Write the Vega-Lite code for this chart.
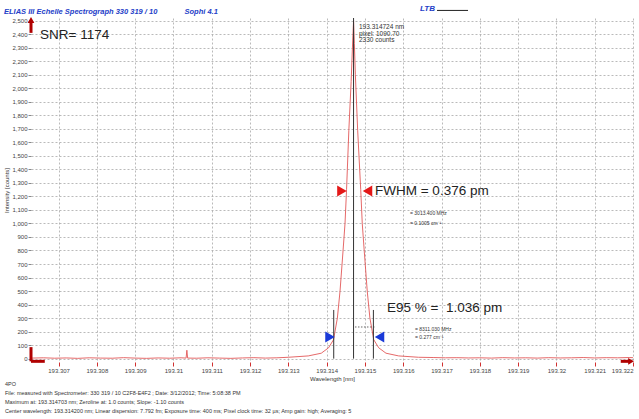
{
  "$schema": "https://vega.github.io/schema/vega-lite/v6.json",
  "width": 602,
  "height": 344,
  "autosize": {"type": "none"},
  "padding": {"left": 31, "top": 18, "right": 6, "bottom": 57},
  "background": "white",
  "config": {"view": {"stroke": null}, "font": "Liberation Sans"},
  "title": {
    "text": "ELIAS III Echelle Spectrograph 330 319 / 10\u00a0\u00a0\u00a0\u00a0\u00a0\u00a0\u00a0\u00a0\u00a0\u00a0\u00a0\u00a0\u00a0Sophi 4.1",
    "anchor": "start",
    "dx": 0,
    "dy": 15,
    "offset": 4,
    "font": "Liberation Sans",
    "fontSize": 7.5,
    "fontStyle": "italic",
    "fontWeight": "bold",
    "color": "#2340c8"
  },
  "datasets": {
    "spectrum": [
      {"x": 193.3063, "y": 4}, {"x": 193.3066, "y": 6}, {"x": 193.3069, "y": 3},
      {"x": 193.3072, "y": 5}, {"x": 193.3075, "y": 2}, {"x": 193.3078, "y": 6},
      {"x": 193.3081, "y": 4}, {"x": 193.3084, "y": 3}, {"x": 193.3087, "y": 7},
      {"x": 193.309, "y": 4}, {"x": 193.3093, "y": 2}, {"x": 193.3096, "y": 5},
      {"x": 193.3099, "y": 3}, {"x": 193.3102, "y": 6}, {"x": 193.31033, "y": 4},
      {"x": 193.31035, "y": 62}, {"x": 193.31037, "y": 4}, {"x": 193.3106, "y": 3},
      {"x": 193.3109, "y": 6}, {"x": 193.3112, "y": 4}, {"x": 193.3115, "y": 2},
      {"x": 193.3118, "y": 5}, {"x": 193.3121, "y": 7}, {"x": 193.3124, "y": 4},
      {"x": 193.3127, "y": 6}, {"x": 193.313, "y": 10}, {"x": 193.31352, "y": 20},
      {"x": 193.31386, "y": 40}, {"x": 193.31405, "y": 80}, {"x": 193.31418, "y": 140},
      {"x": 193.31428, "y": 300}, {"x": 193.31435, "y": 500}, {"x": 193.31443, "y": 804},
      {"x": 193.31448, "y": 1000}, {"x": 193.31452, "y": 1250}, {"x": 193.31458, "y": 1690},
      {"x": 193.31464, "y": 2050}, {"x": 193.31468, "y": 2350}, {"x": 193.314703, "y": 2500},
      {"x": 193.314724, "y": 2330}, {"x": 193.31475, "y": 2100}, {"x": 193.31481, "y": 1690},
      {"x": 193.31489, "y": 1250}, {"x": 193.31493, "y": 1000}, {"x": 193.31498, "y": 804},
      {"x": 193.31506, "y": 500}, {"x": 193.31513, "y": 300}, {"x": 193.31523, "y": 140},
      {"x": 193.31536, "y": 80}, {"x": 193.31555, "y": 40}, {"x": 193.31588, "y": 20},
      {"x": 193.3164, "y": 10}, {"x": 193.3168, "y": 8}, {"x": 193.3171, "y": 6},
      {"x": 193.3174, "y": 7}, {"x": 193.3177, "y": 5}, {"x": 193.318, "y": 6},
      {"x": 193.3183, "y": 4}, {"x": 193.3186, "y": 7}, {"x": 193.3189, "y": 5},
      {"x": 193.3192, "y": 6}, {"x": 193.3195, "y": 4}, {"x": 193.3198, "y": 7},
      {"x": 193.3201, "y": 5}, {"x": 193.3204, "y": 6}, {"x": 193.3207, "y": 8},
      {"x": 193.321, "y": 5}, {"x": 193.3213, "y": 7}, {"x": 193.3216, "y": 6},
      {"x": 193.3219, "y": 8}, {"x": 193.322, "y": 7}
    ],
    "cursors": [
      {"x": 193.314703, "y": 0, "y2": 2520},
      {"x": 193.314185, "y": 0, "y2": 360},
      {"x": 193.315221, "y": 0, "y2": 360}
    ],
    "levels": [
      {"x": 193.31474, "x2": 193.31526, "y": 234}
    ],
    "markers": [
      {"x": 193.3144, "y": 1240, "dir": "right", "kind": "fwhm"},
      {"x": 193.315067, "y": 1240, "dir": "left", "kind": "fwhm"},
      {"x": 193.314088, "y": 160, "dir": "right", "kind": "e95"},
      {"x": 193.315381, "y": 160, "dir": "left", "kind": "e95"}
    ],
    "heads": [
      {"x": 193.30628, "y": 2505, "dir": "up", "kind": "axis"},
      {"x": 193.32195, "y": -20, "dir": "right", "kind": "axis"}
    ],
    "axisArrows": [
      {"x": 193.30628, "x2": 193.30628, "y": 2410, "y2": 2500},
      {"x": 193.30628, "x2": 193.30628, "y": 85, "y2": -20},
      {"x": 193.30628, "x2": 193.30664, "y": -20, "y2": -20},
      {"x": 193.32168, "x2": 193.3219, "y": -20, "y2": -20}
    ],
    "notes": [
      {"x": 193.306515, "y": 2394, "label": "SNR= 1174", "group": "big"},
      {"x": 193.315263, "y": 1240, "label": "FWHM = 0.376 pm", "group": "big"},
      {"x": 193.315576, "y": 375, "label": "E95 % =\u00a0 1.036 pm", "group": "big"},
      {"x": 193.314845, "y": 2453, "label": "193.314724 nm", "group": "readout"},
      {"x": 193.314845, "y": 2405, "label": "pixel:  1090.70", "group": "readout"},
      {"x": 193.314845, "y": 2357, "label": "2330 counts", "group": "readout"},
      {"x": 193.316177, "y": 1077, "label": "= 3013.400 MHz", "group": "unit"},
      {"x": 193.316177, "y": 1003, "label": "= 0.1005 cm\u207b\u00b9", "group": "unit"},
      {"x": 193.316307, "y": 219, "label": "= 8311.030 MHz", "group": "unit"},
      {"x": 193.316307, "y": 160, "label": "=  0.277 cm\u207b\u00b9", "group": "unit"},
      {"x": 193.3056, "y": -188, "label": "4PO", "group": "footer"},
      {"x": 193.3056, "y": -254, "label": "File:  measured with Spectrometer: 330 319 / 10 C2F8-E4F2 ; Date: 3/12/2012; Time: 5:08:38 PM", "group": "footer"},
      {"x": 193.3056, "y": -321, "label": "Maximum at: 193.314703 nm; Zeroline at: 1.0 counts; Slope: -1.10 counts", "group": "footer"},
      {"x": 193.3056, "y": -387, "label": "Center wavelength: 193.314200 nm; Linear dispersion: 7.792 fm; Exposure time: 400 ms; Pixel clock time: 32 \u00b5s; Amp gain: high; Averaging: 5", "group": "footer"},
      {"x": 193.316438, "y": 2590, "label": "LTB", "group": "logo"}
    ],
    "logoLine": [
      {"x": 193.316882, "x2": 193.317692, "y": 2576}
    ]
  },
  "encoding": {
    "x": {
      "field": "x",
      "type": "quantitative",
      "scale": {"domain": [193.30628, 193.322], "nice": false, "zero": false},
      "axis": {
        "values": [193.307, 193.308, 193.309, 193.31, 193.311, 193.312, 193.313, 193.314, 193.315, 193.316, 193.317, 193.318, 193.319, 193.32, 193.321, 193.322],
        "format": ".3~f",
        "title": "Wavelength [nm]",
        "titleFontSize": 6,
        "titleFontWeight": "normal",
        "titleColor": "#333",
        "titlePadding": 2,
        "labelFontSize": 6,
        "labelColor": "#444",
        "labelPadding": 1,
        "labelFlush": true,
        "labelOverlap": false,
        "tickColor": "#d03030",
        "tickSize": 4,
        "domain": false,
        "grid": true,
        "gridColor": "#a8a8a8",
        "gridDash": [2, 2],
        "gridWidth": 0.8
      }
    },
    "y": {
      "field": "y",
      "type": "quantitative",
      "scale": {"domain": [-25, 2520], "nice": false, "zero": false},
      "axis": {
        "values": [0, 100, 200, 300, 400, 500, 600, 700, 800, 900, 1000, 1100, 1200, 1300, 1400, 1500, 1600, 1700, 1800, 1900, 2000, 2100, 2200, 2300, 2400, 2500],
        "format": ",.0f",
        "title": "Intensity [counts]",
        "titleFontSize": 6,
        "titleFontWeight": "normal",
        "titleColor": "#333",
        "titlePadding": 2,
        "labelFontSize": 6,
        "labelColor": "#444",
        "labelPadding": 1,
        "tickColor": "#888",
        "tickSize": 3,
        "domain": false,
        "grid": true,
        "gridColor": "#a8a8a8",
        "gridDash": [2, 2],
        "gridWidth": 0.8
      }
    }
  },
  "layer": [
    {
      "data": {"name": "spectrum"},
      "mark": {"type": "line", "color": "#e25858", "strokeWidth": 0.9, "interpolate": "linear"},
      "encoding": {}
    },
    {
      "data": {"name": "cursors"},
      "mark": {"type": "rule", "color": "#333", "strokeWidth": 1},
      "encoding": {"y2": {"field": "y2"}}
    },
    {
      "data": {"name": "levels"},
      "mark": {"type": "rule", "color": "#444", "strokeWidth": 0.8, "strokeDash": [1.5, 1.5]},
      "encoding": {"x2": {"field": "x2"}}
    },
    {
      "data": {"name": "axisArrows"},
      "mark": {"type": "rule", "color": "#b00000", "strokeWidth": 3},
      "encoding": {"x2": {"field": "x2"}, "y2": {"field": "y2"}}
    },
    {
      "data": {"name": "markers"},
      "mark": {"type": "point", "filled": true, "opacity": 1, "size": 120},
      "encoding": {
        "shape": {"field": "dir", "type": "nominal", "scale": {"domain": ["right", "left", "up"], "range": ["triangle-right", "triangle-left", "triangle-up"]}, "legend": null},
        "color": {"field": "kind", "type": "nominal", "scale": {"domain": ["fwhm", "e95", "axis"], "range": ["#e41818", "#1a3ad8", "#b00000"]}, "legend": null}
      }
    },
    {
      "data": {"name": "heads"},
      "mark": {"type": "point", "filled": true, "opacity": 1, "size": 45},
      "encoding": {
        "shape": {"field": "dir", "type": "nominal", "scale": {"domain": ["right", "left", "up"], "range": ["triangle-right", "triangle-left", "triangle-up"]}, "legend": null},
        "color": {"field": "kind", "type": "nominal", "scale": {"domain": ["fwhm", "e95", "axis"], "range": ["#e41818", "#1a3ad8", "#b00000"]}, "legend": null}
      }
    },
    {
      "data": {"name": "notes"},
      "transform": [{"filter": "datum.group === 'big'"}],
      "mark": {"type": "text", "align": "left", "baseline": "middle", "fontSize": 13.5, "color": "#222"},
      "encoding": {"text": {"field": "label"}}
    },
    {
      "data": {"name": "notes"},
      "transform": [{"filter": "datum.group === 'readout'"}],
      "mark": {"type": "text", "align": "left", "baseline": "middle", "fontSize": 6.5, "color": "#333"},
      "encoding": {"text": {"field": "label"}}
    },
    {
      "data": {"name": "notes"},
      "transform": [{"filter": "datum.group === 'unit'"}],
      "mark": {"type": "text", "align": "left", "baseline": "middle", "fontSize": 5, "color": "#333"},
      "encoding": {"text": {"field": "label"}}
    },
    {
      "data": {"name": "notes"},
      "transform": [{"filter": "datum.group === 'footer'"}],
      "mark": {"type": "text", "align": "left", "baseline": "middle", "fontSize": 5.5, "color": "#333"},
      "encoding": {"text": {"field": "label"}}
    },
    {
      "data": {"name": "notes"},
      "transform": [{"filter": "datum.group === 'logo'"}],
      "mark": {"type": "text", "align": "left", "baseline": "middle", "fontSize": 8, "fontStyle": "italic", "fontWeight": "bold", "color": "#2340c8"},
      "encoding": {"text": {"field": "label"}}
    },
    {
      "data": {"name": "logoLine"},
      "mark": {"type": "rule", "color": "#222", "strokeWidth": 1},
      "encoding": {"x2": {"field": "x2"}}
    }
  ]
}
